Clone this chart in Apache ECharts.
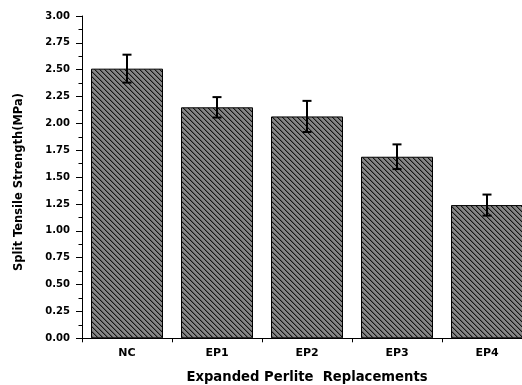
<!DOCTYPE html>
<html>
<head>
<meta charset="utf-8">
<style>
  html, body { margin: 0; padding: 0; background: #ffffff; }
  #chart { width: 522px; height: 385px; }
</style>
<script src="https://cdn.jsdelivr.net/npm/echarts@6/dist/echarts.min.js"></script>
</head>
<body>
<div id="chart"></div>
<script>
// Mix designs and measured split tensile strength (MPa) with standard deviations
const categories = ['NC', 'EP1', 'EP2', 'EP3', 'EP4'];
const strengthValues = [2.51, 2.15, 2.065, 1.69, 1.24];
const strengthErrors = [0.13, 0.095, 0.145, 0.115, 0.098];
const yTickLabels = ['0.00', '0.25', '0.50', '0.75', '1.00', '1.25', '1.50', '1.75', '2.00', '2.25', '2.50', '2.75', '3.00'];

// Diagonal hatch tile: grey ground with "\" strokes
function makeHatch() {
  const s = 5;
  const c = document.createElement('canvas');
  c.width = s; c.height = s;
  const g = c.getContext('2d');
  g.fillStyle = '#858585';
  g.fillRect(0, 0, s, s);
  for (let i = 0; i < s; i++) {
    g.fillStyle = '#141414';
    g.fillRect(i, i, 1, 1);
    g.fillStyle = '#5c5c5c';
    g.fillRect((i + 1) % s, i, 1, 1);
  }
  return c;
}

const font = 'DejaVu Sans';
const chart = echarts.init(document.getElementById('chart'), null, { renderer: 'canvas' });

const errorData = strengthValues.map((v, i) => [i, v - strengthErrors[i], v + strengthErrors[i]]);

chart.setOption({
  animation: false,
  grid: { left: 82, top: 16, width: 450, bottom: 46.7, containLabel: false, outerBoundsMode: 'none' },
  xAxis: {
    type: 'category',
    data: categories,
    name: 'Expanded Perlite  Replacements',
    nameLocation: 'middle',
    nameGap: 33,
    nameTextStyle: { fontFamily: font, fontWeight: 'bold', fontSize: 13.2, color: '#000' },
    axisLine: { lineStyle: { color: '#000', width: 1 } },
    axisTick: { show: true, length: 4, lineStyle: { color: '#000' } },
    axisLabel: { fontFamily: font, fontWeight: 'bold', fontSize: 11, color: '#000', margin: 9 },
    splitLine: { show: false }
  },
  yAxis: {
    type: 'value',
    min: 0,
    max: 3,
    interval: 0.25,
    axisLine: { show: true, lineStyle: { color: '#000', width: 1 } },
    axisTick: { show: true, length: 6, lineStyle: { color: '#000' } },
    minorTick: { show: true, splitNumber: 2, length: 3.5, lineStyle: { color: '#000' } },
    axisLabel: {
      fontFamily: font, fontWeight: 'bold', fontSize: 10, color: '#000', margin: 12,
      formatter: (v) => yTickLabels[Math.round(v / 0.25)]
    },
    splitLine: { show: false }
  },
  graphic: [{
    type: 'text',
    x: 19,
    y: 182,
    rotation: Math.PI / 2,
    style: {
      text: 'Split Tensile Strength(MPa)',
      fontFamily: font,
      fontWeight: 'bold',
      fontSize: 11.5,
      fill: '#000',
      align: 'center',
      verticalAlign: 'middle'
    }
  }],
  series: [
    {
      type: 'bar',
      data: strengthValues,
      barCategoryGap: '20%',
      itemStyle: {
        color: { image: makeHatch(), repeat: 'repeat' },
        borderColor: '#000',
        borderWidth: 1
      }
    },
    {
      type: 'custom',
      data: errorData,
      z: 10,
      renderItem: function (params, api) {
        const x = api.value(0);
        const lo = api.coord([x, api.value(1)]);
        const hi = api.coord([x, api.value(2)]);
        const cap = 4.5;
        const style = { stroke: '#000', lineWidth: 2 };
        return {
          type: 'group',
          children: [
            { type: 'line', shape: { x1: hi[0], y1: hi[1], x2: lo[0], y2: lo[1] }, style },
            { type: 'line', shape: { x1: hi[0] - cap, y1: hi[1], x2: hi[0] + cap, y2: hi[1] }, style },
            { type: 'line', shape: { x1: lo[0] - cap, y1: lo[1], x2: lo[0] + cap, y2: lo[1] }, style }
          ]
        };
      }
    }
  ]
});
</script>
</body>
</html>
